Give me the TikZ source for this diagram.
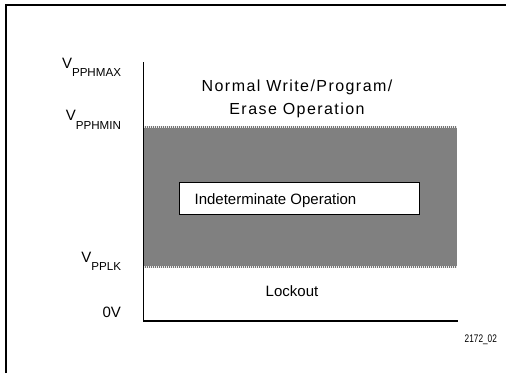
\documentclass[tikz,border=0pt]{standalone}
\usepackage{fontspec}
\setmainfont{Liberation Sans}
\newfontfamily\spacedfont[LetterSpace=9]{Liberation Sans}
\begin{document}
\begin{tikzpicture}[x=1pt,y=-1pt,
  txt/.style={inner sep=0pt, outer sep=0pt, font=\fontsize{15}{18}\selectfont},
  vlabel/.style={txt, anchor=base east},
  spaced/.style={inner sep=0pt, outer sep=0pt, anchor=base, font=\spacedfont\fontsize{16}{19}\selectfont},
  frameline/.style={line width=2.2pt},
  axisline/.style={line width=1.5pt},
  edgedots/.style={line width=1.2pt, white!85!gray, dash pattern=on 1pt off 1pt}
]
\useasboundingbox (0,0) rectangle (508,373);
\fill[white] (0,0) rectangle (508,373);
% outer frame (top and left)
\draw[frameline] (6,373) -- (6,5) -- (506,5);
% gray band
\fill[fill={rgb,255:red,128;green,128;blue,128}] (144,127) rectangle (457,267);
\draw[line width=1.2pt, black!55] (144,127) -- (457,127);
\draw[line width=1.2pt, black!55] (144,267) -- (457,267);
\draw[edgedots] (144,127) -- (457,127);
\draw[edgedots] (144,267) -- (457,267);
% axes
\coordinate (top) at (143.5,62);
\coordinate (origin) at (143.5,321);
\coordinate (right) at (458,321);
\draw[axisline] (top) -- (origin) -- (right);
% indeterminate box
\node[draw=black, line width=1pt, fill=white, minimum width=240pt, minimum height=32pt, inner sep=0pt] (indbox) at (299,198) {};
\node[txt, anchor=base west] (indtext) at (194.6,204) {Indeterminate Operation};
% region texts
\node[spaced] (normal1) at (297,91) {Normal Write/Program/};
\node[spaced] (normal2) at (297,114) {Erase Operation};
\node[txt, anchor=base] (lockout) at (292,296) {Lockout};
% voltage labels
\node[vlabel] (vmax) at (121,68) {V\raisebox{-8.5pt}{\fontsize{11.6}{12}\selectfont PPHMAX}};
\node[vlabel] (vmin) at (121,120) {V\raisebox{-9.5pt}{\fontsize{11.6}{12}\selectfont PPHMIN}};
\node[vlabel] (vlk) at (121,262) {V\raisebox{-8.5pt}{\fontsize{11.6}{12}\selectfont PPLK}};
\node[vlabel] (zero) at (121,317) {0V};
% figure id
\node[inner sep=0pt, anchor=base east, font=\fontsize{11}{12}\selectfont, xscale=0.75, transform shape] (figid) at (497,342) {2172\_02};
\end{tikzpicture}
\end{document}
